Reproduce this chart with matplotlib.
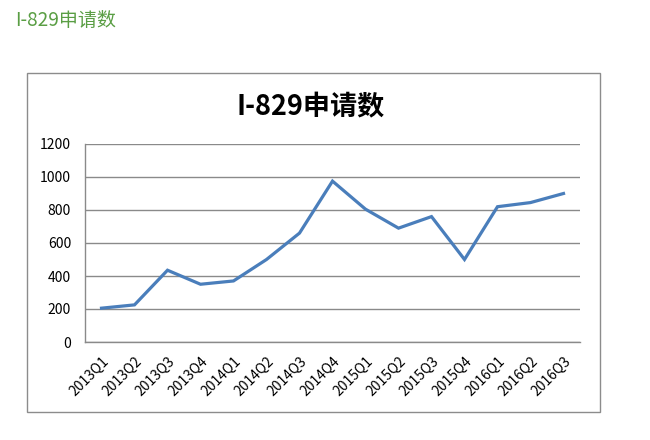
import matplotlib
matplotlib.use("Agg")
import matplotlib.pyplot as plt
from matplotlib.patches import Rectangle

plt.rcParams['font.family'] = ['Noto Sans CJK SC', 'DejaVu Sans']

quarters = ['2013Q1', '2013Q2', '2013Q3', '2013Q4', '2014Q1', '2014Q2', '2014Q3', '2014Q4',
            '2015Q1', '2015Q2', '2015Q3', '2015Q4', '2016Q1', '2016Q2', '2016Q3']
counts = [205, 225, 435, 350, 370, 500, 660, 975, 805, 690, 760, 500, 820, 845, 900]
yticks = [0, 200, 400, 600, 800, 1000, 1200]

fig = plt.figure(figsize=(6.5, 4.4), dpi=100)

# green header above the chart
fig.text(15/650, 1 - 20/440, 'I-829申请数', color='#5a9e44', fontsize=13.7,
         va='center', ha='left')

# outer chart frame
fig.patches.append(Rectangle((27/650, 1 - 412/440), (600 - 27)/650, (412 - 73)/440,
                             transform=fig.transFigure, fill=False,
                             edgecolor='#8c8c8c', linewidth=1))

fig.text(311/650, 1 - 107/440, 'I-829申请数', fontsize=19.5, fontweight='bold',
         ha='center', va='center', color='black')

ax = fig.add_axes([85/650, 1 - 342/440, (580 - 85)/650, (342 - 144)/440])
x = range(len(quarters))
ax.plot(x, counts, color='#4a7ebb', linewidth=2.3, solid_joinstyle='miter')

ax.set_xlim(-0.5, len(quarters) - 0.5)
ax.set_ylim(0, 1200)
ax.set_yticks(yticks)
ax.set_yticklabels([str(v) for v in yticks])
ax.set_xticks(list(x))
ax.set_xticklabels(quarters, rotation=45, ha='right', rotation_mode='anchor')
ax.tick_params(length=0, labelsize=10)
ax.tick_params(axis='y', pad=10)
ax.tick_params(axis='x', pad=9)

ax.yaxis.grid(True, color='#8a8a8a', linewidth=1)
ax.set_axisbelow(True)
for s in ['top', 'right']:
    ax.spines[s].set_visible(False)
for s in ['left', 'bottom']:
    ax.spines[s].set_color('#8a8a8a')
    ax.spines[s].set_linewidth(1)

fig.savefig('out.png', dpi=100)
